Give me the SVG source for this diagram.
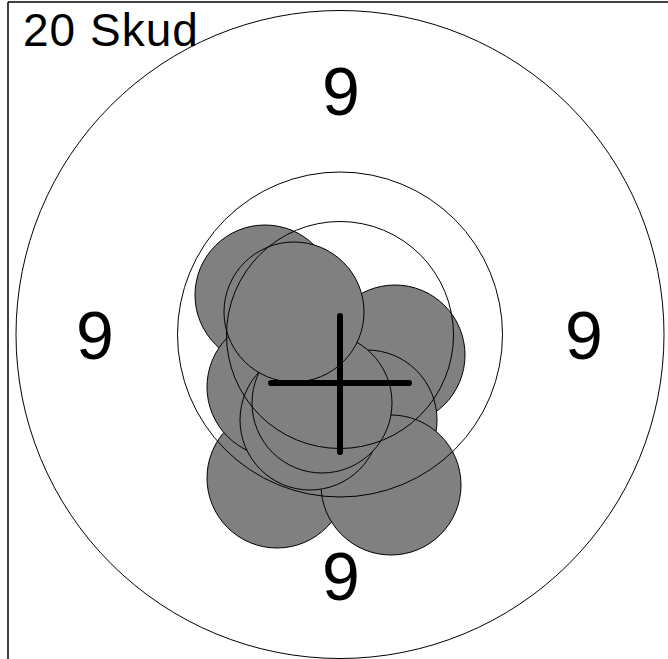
<svg xmlns="http://www.w3.org/2000/svg" width="668" height="659" viewBox="0 0 668 659">
<style>
.shot{fill:#808080;stroke:#000;stroke-width:1}
.ring{fill:none;stroke:#000;stroke-width:1}
.lbl{font-family:"Liberation Sans",Arial,Helvetica,sans-serif;fill:#000}
.cross{stroke:#000;stroke-width:6;stroke-linecap:round}
</style>
<rect x="0" y="0" width="668" height="659" fill="#fff"/>
<g id="frame">
<line x1="8" y1="2" x2="668" y2="2" stroke="#000" stroke-width="1.5"/>
<line x1="8" y1="2" x2="8" y2="659" stroke="#000" stroke-width="1.5"/>
</g>
<g id="shots">
<circle class="shot" cx="265" cy="295" r="70"/>
<circle class="shot" cx="395" cy="355" r="70"/>
<circle class="shot" cx="367" cy="420" r="70"/>
<circle class="shot" cx="277" cy="478" r="70"/>
<circle class="shot" cx="391" cy="485" r="70"/>
<circle class="shot" cx="277" cy="387" r="70"/>
<circle class="shot" cx="310" cy="420" r="70"/>
<circle class="shot" cx="322" cy="403" r="70"/>
<circle class="shot" cx="294" cy="312" r="70"/>
</g>
<g id="rings">
<circle class="ring" cx="340" cy="334.5" r="324"/>
<circle class="ring" cx="340" cy="334.5" r="162.5"/>
<circle class="ring" cx="340" cy="335" r="113.5"/>
</g>
<g id="cross">
<line class="cross" x1="271" y1="383" x2="409" y2="383"/>
<line class="cross" x1="340" y1="316" x2="340" y2="452"/>
</g>
<g id="labels">
<text class="lbl" x="23" y="46" font-size="46" letter-spacing="1">20 Skud</text>
<text class="lbl" x="341" y="115" font-size="68" text-anchor="middle">9</text>
<text class="lbl" x="95" y="359" font-size="68" text-anchor="middle">9</text>
<text class="lbl" x="584" y="359" font-size="68" text-anchor="middle">9</text>
<text class="lbl" x="341" y="600" font-size="68" text-anchor="middle">9</text>
</g>
</svg>
